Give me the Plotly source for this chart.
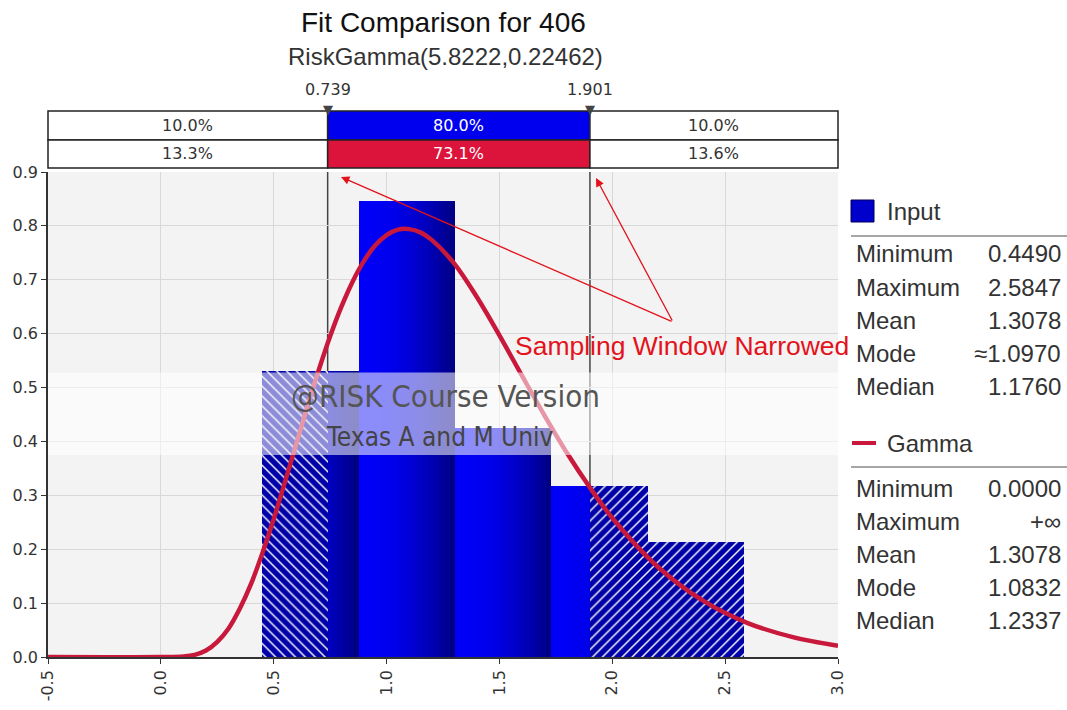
import plotly.graph_objects as go

# ---------------- data ----------------
bin_edges = [0.449, 0.876, 1.303, 1.730, 2.157, 2.585]
bin_density = [0.531, 0.846, 0.425, 0.317, 0.213]

curve_x = [-0.5, 0.0, 0.1, 0.15, 0.2, 0.25, 0.3, 0.35, 0.4, 0.45, 0.5, 0.55, 0.6, 0.65,
           0.7, 0.75, 0.8, 0.85, 0.9, 0.95, 1.0, 1.05, 1.1, 1.15, 1.2, 1.3, 1.4, 1.5,
           1.6, 1.7, 1.8, 1.9, 2.0, 2.2, 2.4, 2.6, 2.8, 3.0]
curve_y = [0.0, 0.0, 0.001, 0.004, 0.012, 0.028, 0.053, 0.090, 0.136, 0.193, 0.256, 0.325,
           0.396, 0.466, 0.533, 0.595, 0.650, 0.697, 0.735, 0.764, 0.783, 0.793, 0.794,
           0.788, 0.774, 0.730, 0.668, 0.597, 0.522, 0.448, 0.378, 0.315, 0.258, 0.168,
           0.105, 0.063, 0.037, 0.021]

window = [0.739, 1.901]
window_labels = ["0.739", "1.901"]
input_pct = ["10.0%", "80.0%", "10.0%"]
fit_pct = ["13.3%", "73.1%", "13.6%"]

stat_labels = ["Minimum", "Maximum", "Mean", "Mode", "Median"]
input_stats = ["0.4490", "2.5847", "1.3078", "\u22481.0970", "1.1760"]
gamma_stats = ["0.0000", "+\u221e", "1.3078", "1.0832", "1.2337"]

x_ticks = [-0.5, 0.0, 0.5, 1.0, 1.5, 2.0, 2.5, 3.0]
x_tick_text = ["-0.5", "0.0", "0.5", "1.0", "1.5", "2.0", "2.5", "3.0"]
y_ticks = [0.0, 0.1, 0.2, 0.3, 0.4, 0.5, 0.6, 0.7, 0.8, 0.9]
y_tick_text = ["0.0", "0.1", "0.2", "0.3", "0.4", "0.5", "0.6", "0.7", "0.8", "0.9"]

title = "Fit Comparison for 406"
subtitle = "RiskGamma(5.8222,0.22462)"
note = "Sampling Window Narrowed"
watermark = ["@RISK Course Version", "Texas A and M Univ"]

# ---------------- layout geometry ----------------
W, H = 1067, 710
ML, MT = 48, 172
PW, PH = 790, 485
MR = W - ML - PW
MB = H - MT - PH
XR = [-0.5, 3.0]
YR = [0.0, 0.9]


def px(xp):  # page pixel -> paper x
    return (xp - ML) / PW


def py(yp):  # page pixel -> paper y
    return (MT + PH - yp) / PH


def xpaper(v):
    return (v - XR[0]) / (XR[1] - XR[0])


TICKFONT = dict(family="DejaVu Sans", size=16, color="#333333")
SANS = "Liberation Sans, Arial, sans-serif"


def ann(**kw):
    d = dict(showarrow=False, xanchor="center", yanchor="middle")
    d.update(kw)
    return d


fig = go.Figure()

# gradient bars (strips)
N = 18
sx, sw, sy, sc = [], [], [], []
for i, h in enumerate(bin_density):
    e0, e1 = bin_edges[i], bin_edges[i + 1]
    w = (e1 - e0) / N
    for j in range(N):
        t = j / (N - 1)
        b = int(248 - 115 * t * t)
        sx.append(e0 + (j + 0.5) * w)
        sw.append(w * 1.03)
        sy.append(h)
        sc.append(f"rgb(0,0,{b})")
fig.add_trace(go.Bar(x=sx, y=sy, width=sw, marker=dict(color=sc, line=dict(width=0)),
                     opacity=1, hoverinfo="skip", showlegend=False))

# hatched parts outside the window
lx, lw, ly, rx, rw, ry = [], [], [], [], [], []
for i, h in enumerate(bin_density):
    e0, e1 = bin_edges[i], bin_edges[i + 1]
    if e0 < window[0]:
        a, b = e0, min(e1, window[0])
        lx.append((a + b) / 2); lw.append(b - a); ly.append(h)
    if e1 > window[1]:
        a, b = max(e0, window[1]), e1
        rx.append((a + b) / 2); rw.append(b - a); ry.append(h)
for xs, ws, ys, shp in [(lx, lw, ly, "\\"), (rx, rw, ry, "/")]:
    fig.add_trace(go.Bar(x=xs, y=ys, width=ws, opacity=1,
                         marker=dict(color="#0000a8", line=dict(width=0),
                                     pattern=dict(shape=shp, fgcolor="white", bgcolor="#0000a8",
                                                  size=7, solidity=0.2, fillmode="replace")),
                         hoverinfo="skip", showlegend=False))

# gamma curve
fig.add_trace(go.Scatter(x=curve_x, y=curve_y, mode="lines",
                         line=dict(color="#c8183c", width=4.5, shape="spline"),
                         hoverinfo="skip", showlegend=False))

shapes = []
# window vertical lines in plot
for v in window:
    shapes.append(dict(type="line", xref="x", yref="y", x0=v, x1=v, y0=0, y1=YR[1],
                       line=dict(color="#444444", width=1.5), layer="below"))

# translucent watermark band
shapes.append(dict(type="rect", xref="paper", yref="y", x0=0, x1=1, y0=0.375, y1=0.528,
                   fillcolor="rgba(255,255,255,0.55)", line=dict(width=0), layer="above"))

# percentage band
rows = [(111, 140, input_pct, "#0000ee"), (140, 168, fit_pct, "#dc143c")]
bounds = [XR[0], window[0], window[1], XR[1]]
annotations = []
for (ytop, ybot, texts, col) in rows:
    for k in range(3):
        x0, x1 = xpaper(bounds[k]), xpaper(bounds[k + 1])
        fill = col if k == 1 else "white"
        shapes.append(dict(type="rect", xref="paper", yref="paper", x0=x0, x1=x1, y0=py(ybot), y1=py(ytop),
                           fillcolor=fill, line=dict(color="#222222", width=1.5), layer="above"))
        annotations.append(ann(xref="paper", yref="paper", x=(x0 + x1) / 2, y=py((ytop + ybot) / 2),
                               text=texts[k],
                               font=dict(family="DejaVu Sans", size=16,
                                         color="white" if k == 1 else "#333333")))
for v, lab in zip(window, window_labels):
    annotations.append(ann(xref="x", yref="paper", x=v, y=py(90), text=lab,
                           font=dict(family="DejaVu Sans", size=16, color="#333333")))
    annotations.append(ann(xref="x", yref="paper", x=v, y=py(109), text="\u25bc",
                           font=dict(family="DejaVu Sans", size=13, color="#444444")))

# titles
annotations.append(ann(xref="paper", yref="paper", x=px(443), y=py(22), text=title,
                       font=dict(family=SANS, size=28, color="#111111")))
annotations.append(ann(xref="paper", yref="paper", x=px(445), y=py(57), text=subtitle,
                       font=dict(family=SANS, size=24, color="#333333")))

# watermark
annotations.append(ann(xref="paper", yref="paper", x=px(445), y=py(396), text=watermark[0],
                       font=dict(family="DejaVu Sans Condensed, DejaVu Sans", size=31, color="#555555")))
annotations.append(ann(xref="paper", yref="paper", x=px(440), y=py(437), text=watermark[1],
                       font=dict(family="DejaVu Sans Condensed, DejaVu Sans", size=26, color="#444444")))

# note + arrows
annotations.append(ann(xref="paper", yref="paper", x=px(851), y=py(346), xanchor="right", text=note,
                       font=dict(family=SANS, size=26.5, color="#e3121b")))
tail = (673, 322)
for tip in [(341, 177), (596, 178)]:
    annotations.append(dict(xref="paper", yref="paper", x=px(tip[0]), y=py(tip[1]), text="",
                            showarrow=True, arrowhead=2, arrowsize=1.3, arrowwidth=1.3,
                            arrowcolor="#e3121b", ax=tail[0] - tip[0], ay=tail[1] - tip[1]))

# legend panel
LEGFONT = dict(family=SANS, size=24, color="#333333")
shapes.append(dict(type="rect", xref="paper", yref="paper", x0=px(851), x1=px(874), y0=py(222), y1=py(200),
                   fillcolor="#0000cc", line=dict(color="#000055", width=1)))
annotations.append(ann(xref="paper", yref="paper", x=px(885), y=py(211), xanchor="left", text="Input",
                       font=LEGFONT))
shapes.append(dict(type="line", xref="paper", yref="paper", x0=px(851), x1=px(1067), y0=py(236), y1=py(236),
                   line=dict(color="#888888", width=1.5)))
shapes.append(dict(type="line", xref="paper", yref="paper", x0=px(852), x1=px(876), y0=py(443), y1=py(443),
                   line=dict(color="#c8183c", width=4)))
annotations.append(ann(xref="paper", yref="paper", x=px(885), y=py(443), xanchor="left", text="Gamma",
                       font=LEGFONT))
shapes.append(dict(type="line", xref="paper", yref="paper", x0=px(851), x1=px(1067), y0=py(467), y1=py(467),
                   line=dict(color="#888888", width=1.5)))
for base, vals in [(254, input_stats), (488, gamma_stats)]:
    for k, (lab, val) in enumerate(zip(stat_labels, vals)):
        yy = py(base + k * 33)
        annotations.append(ann(xref="paper", yref="paper", x=px(854), y=yy, xanchor="left", text=lab,
                               font=LEGFONT))
        annotations.append(ann(xref="paper", yref="paper", x=px(1063), y=yy, xanchor="right", text=val,
                               font=LEGFONT))

fig.update_layout(
    width=W, height=H, margin=dict(l=ML, r=MR, t=MT, b=MB, autoexpand=False),
    paper_bgcolor="white", plot_bgcolor="#f3f3f3",
    barmode="overlay", bargap=0, showlegend=False,
    shapes=shapes, annotations=annotations,
    xaxis=dict(range=XR, tickvals=x_ticks, ticktext=x_tick_text, tickangle=-90, tickfont=TICKFONT,
               showgrid=True, gridcolor="#d8d8d8", gridwidth=1, zeroline=False,
               showline=True, linecolor="#333333", linewidth=1.5, ticks="outside", ticklen=5,
               tickcolor="#333333", fixedrange=True),
    yaxis=dict(range=YR, tickvals=y_ticks, ticktext=y_tick_text, tickfont=TICKFONT,
               showgrid=True, gridcolor="#d8d8d8", gridwidth=1, zeroline=False,
               showline=True, linecolor="#333333", linewidth=1.5, ticks="outside", ticklen=5,
               tickcolor="#333333", fixedrange=True),
)

# remove the default page margin so the figure sits at the window's top-left corner
fig.write_html("out.html", config={"displayModeBar": False},
               post_script="document.body.style.margin='0';document.body.style.overflow='hidden';")
